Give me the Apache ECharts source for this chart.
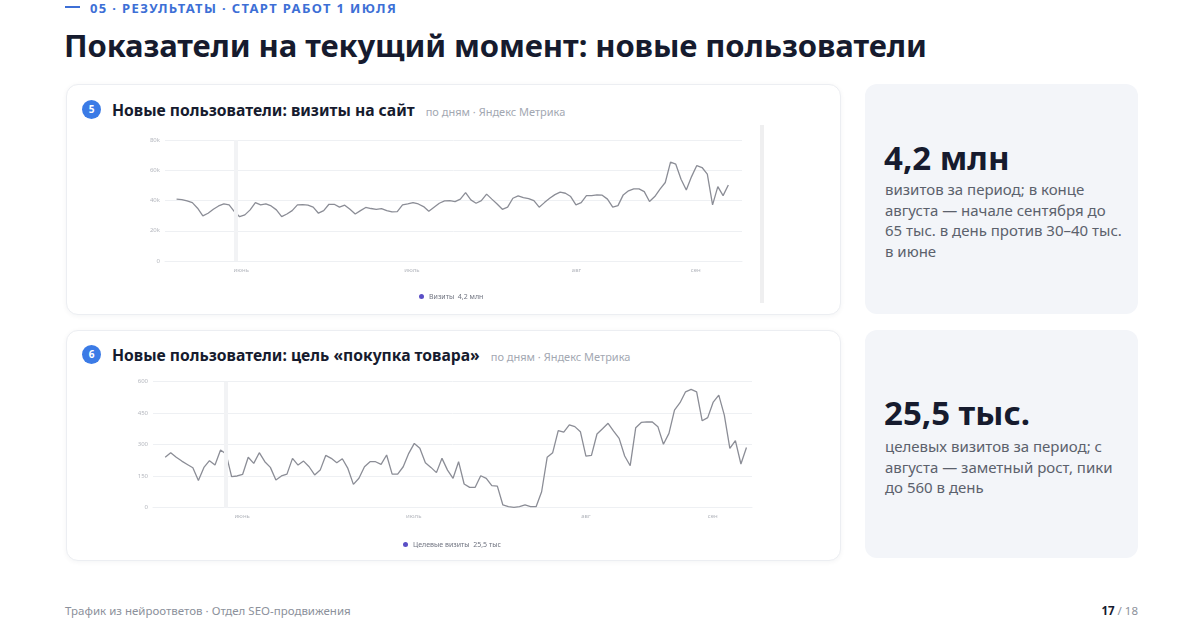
<!DOCTYPE html>
<html lang="ru">
<head>
<meta charset="utf-8">
<script src="https://cdn.jsdelivr.net/npm/echarts@6/dist/echarts.min.js"></script>
<style>
  html,body{margin:0;padding:0;background:#fff;}
  body{width:1200px;height:634px;position:relative;overflow:hidden;font-family:"Noto Sans","Open Sans",sans-serif;color:#161b2e;}
  .abs{position:absolute;}
  .kicker{left:65px;top:0px;font-size:13px;font-weight:700;color:#3d6fd6;letter-spacing:1.35px;line-height:16px;white-space:nowrap;}
  .kicker .dash{display:inline-block;width:15px;height:2px;background:#3d6fd6;vertical-align:middle;margin-right:10px;position:relative;top:-2px;}
  .title{left:64px;top:25px;font-size:31px;font-weight:700;line-height:40px;white-space:nowrap;letter-spacing:-0.1px;}
  .card{background:#fff;border:1px solid #eceef2;border-radius:12px;box-shadow:0 1px 5px rgba(20,30,60,0.05);}
  .side{background:#f3f5f9;border-radius:12px;}
  .badge{width:19px;height:19px;border-radius:50%;background:#3b7be6;color:#fff;font-size:10px;font-weight:700;text-align:center;line-height:19px;}
  .head{font-size:15.7px;font-weight:700;white-space:nowrap;line-height:20px;}
  .head .sub{font-size:11px;font-weight:400;color:#a3a8b2;margin-left:11px;}
  .big{font-size:33px;font-weight:700;line-height:40px;white-space:nowrap;}
  .desc{font-size:15px;line-height:20.5px;color:#5b616c;width:238px;}
  .foot{font-size:11.5px;color:#8c919b;white-space:nowrap;line-height:16px;}
  #chart{position:absolute;left:0;top:0;width:1200px;height:634px;}
</style>
</head>
<body>
<div class="abs kicker"><span class="dash"></span>05 · РЕЗУЛЬТАТЫ · СТАРТ РАБОТ 1 ИЮЛЯ</div>
<div class="abs title">Показатели на текущий момент: новые пользователи</div>

<div class="abs card" style="left:66px;top:84px;width:773px;height:229px;"></div>
<div class="abs card" style="left:66px;top:330px;width:773px;height:229px;"></div>
<div class="abs" style="left:760px;top:125px;width:4px;height:178px;background:#efeff0;"></div>

<div class="abs badge" style="left:82px;top:100px;">5</div>
<div class="abs head" style="left:112px;top:100px;">Новые пользователи: визиты на сайт<span class="sub">по дням · Яндекс Метрика</span></div>
<div class="abs badge" style="left:82px;top:345px;">6</div>
<div class="abs head" style="left:112px;top:345px;">Новые пользователи: цель «покупка товара»<span class="sub">по дням · Яндекс Метрика</span></div>

<div class="abs side" style="left:865px;top:84px;width:273px;height:230px;"></div>
<div class="abs side" style="left:865px;top:330px;width:273px;height:228px;"></div>
<div class="abs big" style="left:884px;top:138px;">4,2 млн</div>
<div class="abs desc" style="left:885px;top:179px;">визитов за период; в конце августа — начале сентября до 65 тыс. в день против 30–40 тыс. в июне</div>
<div class="abs big" style="left:884px;top:393px;">25,5 тыс.</div>
<div class="abs desc" style="left:885px;top:436px;">целевых визитов за период; с августа — заметный рост, пики до 560 в день</div>

<div class="abs foot" style="left:65px;top:603px;">Трафик из нейроответов · Отдел SEO-продвижения</div>
<div class="abs foot" style="right:62px;top:603px;"><b style="color:#161b2e;">17</b> / 18</div>

<div id="chart"></div>
<script>
// ---- data ----
const monthLabels = ['июнь', 'июль', 'авг', 'сен'];
const monthIdx1 = [12.3, 44.8, 76.1, 98.8];
const monthIdx2 = [13.9, 44.9, 76, 98.9];
const yTicks1 = [0, 20, 40, 60, 80];      // тыс. визитов
const yTicks2 = [0, 150, 300, 450, 600];  // целевые визиты

// Визиты в день, тыс.
const visits = [
  40.9, 40.6, 39.7, 38.6, 34.9, 29.8, 31.6, 34.2, 36.4, 37.7, 37.1, 32.7, 29.3, 30.5, 33.8, 38.6, 37.1, 37.7, 36.4, 33.8,
  29.3, 31.1, 33.3, 37.1, 37.3, 36.9, 35.6, 31.6, 33.3, 37.5, 37.5, 35.6, 36.9, 34.2, 31.1, 33.3, 35.4, 34.7,
  34.2, 34.6, 33.3, 32.5, 32.7, 37.1, 37.7, 38.6, 37.7, 36.0, 32.9, 35.6, 38.2, 39.7, 39.9, 39.3, 40.9, 45.2, 40.4, 38.2,
  39.9, 44.2, 40.9, 37.7, 34.2, 35.6, 41.5, 43.0, 41.9, 41.3, 39.9, 35.6, 38.6, 41.5, 43.9,
  45.5, 44.8, 42.6, 37.1, 38.6, 43.2, 43.2, 43.7, 43.5, 40.9, 35.6, 36.6, 43.7, 46.4, 47.7, 47.7, 45.9, 39.3, 42.6, 47.5,
  51.9, 65.4, 64.0, 54.1, 47.0, 55.8, 63.1, 61.8, 57.4, 37.1, 49.2, 43.2, 50.3
];
// Целевые визиты «покупка товара» в день
const goals = [
  240, 262, 240, 222, 206, 190, 129, 192, 224, 203, 275, 256, 148, 151, 159, 240, 211, 262, 219, 192,
  132, 151, 160, 235, 203, 222, 195, 156, 179, 249, 235, 214, 233, 187, 111, 140, 195, 219, 219, 206,
  251, 160, 160, 195, 259, 306, 283, 214, 192, 167, 235, 179, 140,
  219, 113, 97, 97, 152, 140, 105, 103, 13, 5, 2, 5, 13, 5, 5, 76, 240, 262, 367, 360,
  394, 386, 362, 246, 249, 351, 376, 402, 365, 330, 246, 200, 381, 406, 409, 408, 386, 302, 354, 465,
  500, 552, 563, 552, 414, 429, 503, 536, 441, 283, 319, 208, 287
];
const markerIdx1 = 11.2;
const markerIdx2 = 11;
const legend1 = { name: 'Визиты', total: '4,2 млн' };
const legend2 = { name: 'Целевые визиты', total: '25,5 тыс' };

// ---- chart ----
const chart = echarts.init(document.getElementById('chart'), null, { renderer: 'canvas' });
const toXY = arr => arr.map((v, i) => [i, v]);
const font = '"Noto Sans", sans-serif';
const axisLab = { color: '#b4b7be', fontSize: 6, fontFamily: font };

function xAxisFor(gi, idx, min, max) {
  return {
    type: 'value', gridIndex: gi, min: min, max: max,
    axisLine: { show: true, lineStyle: { color: '#eef0f3' } },
    axisTick: { show: false },
    splitLine: { show: false },
    axisLabel: Object.assign({}, axisLab, {
      customValues: idx, margin: 6,
      formatter: v => { const k = idx.indexOf(v); return k >= 0 ? monthLabels[k] : ''; }
    })
  };
}
function yAxisFor(gi, ticks, fmt) {
  return {
    type: 'value', gridIndex: gi, min: ticks[0], max: ticks[ticks.length - 1],
    interval: ticks[1] - ticks[0],
    axisLine: { show: false }, axisTick: { show: false },
    splitLine: { lineStyle: { color: '#eef0f3', width: 1 } },
    axisLabel: Object.assign({}, axisLab, { margin: 5, formatter: fmt })
  };
}
const lineStyle = { color: '#8b8d96', width: 1.3 };

chart.setOption({
  backgroundColor: 'transparent',
  animation: false,
  textStyle: { fontFamily: font },
  grid: [
    { left: 165, top: 140, width: 577, height: 121 },
    { left: 153, top: 381.7, width: 599, height: 126 }
  ],
  xAxis: [
    xAxisFor(0, monthIdx1, -2.2, 107.6),
    xAxisFor(1, monthIdx2, -2.2, 106)
  ],
  yAxis: [
    yAxisFor(0, yTicks1, v => v === 0 ? '0' : v + 'k'),
    yAxisFor(1, yTicks2, v => String(v))
  ],
  legend: [
    { data: [{ name: legend1.name, itemStyle: { color: '#5a4fc6' } }], left: 414, top: 288,
      icon: 'circle', itemWidth: 5, itemHeight: 5, itemGap: 4,
      textStyle: { fontSize: 7, color: '#707480' }, formatter: n => n + '  ' + legend1.total },
    { data: [{ name: legend2.name, itemStyle: { color: '#5a4fc6' } }], left: 398, top: 536,
      icon: 'circle', itemWidth: 5, itemHeight: 5, itemGap: 4,
      textStyle: { fontSize: 7, color: '#707480' }, formatter: n => n + '  ' + legend2.total }
  ],
  series: [
    { name: legend1.name, type: 'line', xAxisIndex: 0, yAxisIndex: 0, data: toXY(visits),
      showSymbol: false, lineStyle: lineStyle, itemStyle: { color: '#8b8d96' },
      markLine: { silent: true, symbol: 'none', label: { show: false },
        lineStyle: { color: '#f2f3f5', width: 4, type: 'solid' }, data: [{ xAxis: markerIdx1 }] } },
    { name: legend2.name, type: 'line', xAxisIndex: 1, yAxisIndex: 1, data: toXY(goals),
      showSymbol: false, lineStyle: lineStyle, itemStyle: { color: '#8b8d96' },
      markLine: { silent: true, symbol: 'none', label: { show: false },
        lineStyle: { color: '#f2f3f5', width: 4, type: 'solid' }, data: [{ xAxis: markerIdx2 }] } }
  ]
});
</script>
</body>
</html>
